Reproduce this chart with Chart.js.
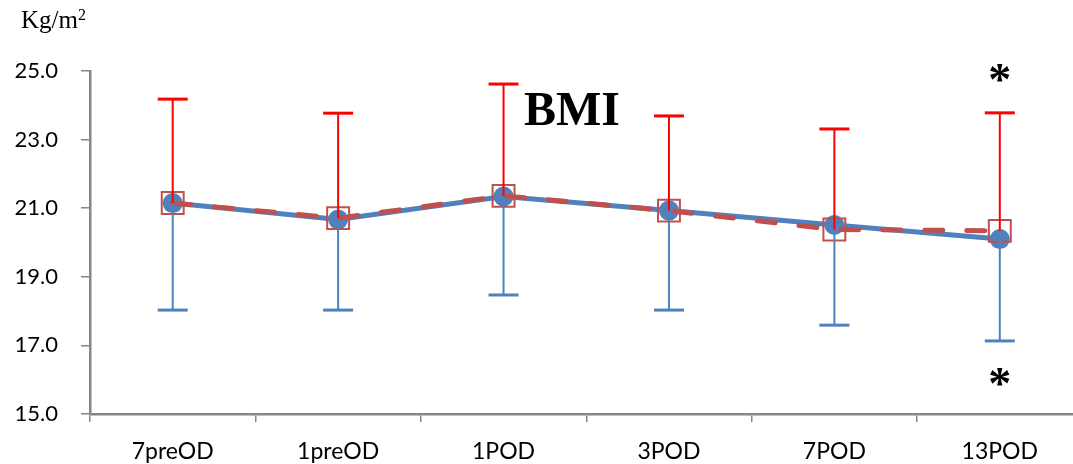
<!DOCTYPE html>
<html>
<head>
<meta charset="utf-8">
<script src="https://cdn.jsdelivr.net/npm/chart.js@4/dist/chart.umd.min.js"></script>
<style>
  body { margin: 0; background: #fff; overflow: hidden; }
  #wrap { width: 1073px; height: 464px; overflow: hidden; }
</style>
</head>
<body>
<div id="wrap"><canvas id="myChart" width="1100" height="464"></canvas></div>
<script>
'use strict';

// data
let days = ['7preOD', '1preOD', '1POD', '3POD', '7POD', '13POD'];
let blueBmi = [21.15, 20.67, 21.34, 20.93, 20.51, 20.10];
let redBmi = [21.15, 20.71, 21.36, 20.93, 20.38, 20.34];
let blueLow = [18.03, 18.03, 18.47, 18.03, 17.59, 17.13];
let redHigh = [24.18, 23.77, 24.62, 23.69, 23.31, 23.78];
let yTicks = [15, 17, 19, 21, 23, 25];
let starDay = '13POD';
let starValues = [24.94, 16.08];

const BLUE = '#4f81bd';
const RED = '#c0504d';
const AXIS = '#868686';

// error bars + texts drawn on top of the chart
const extras = {
  id: 'extras',
  afterDatasetsDraw(chart) {
    const ctx = chart.ctx;
    const x = chart.scales.x;
    const y = chart.scales.y;
    ctx.save();

    function bar(i, from, to, color) {
      let px = x.getPixelForValue(i);
      let y1 = y.getPixelForValue(from);
      let y2 = y.getPixelForValue(to);
      ctx.strokeStyle = color;
      ctx.lineWidth = 2;
      ctx.beginPath();
      ctx.moveTo(px, y1);
      ctx.lineTo(px, y2);
      ctx.stroke();
      ctx.lineWidth = 3;
      ctx.beginPath();
      ctx.moveTo(px - 15, y2);
      ctx.lineTo(px + 15, y2);
      ctx.stroke();
    }
    for (let i = 0; i < days.length; i++) {
      bar(i, blueBmi[i], blueLow[i], BLUE);
      bar(i, redBmi[i], redHigh[i], '#ff0000');
    }

    // title
    ctx.fillStyle = '#000';
    ctx.font = 'bold 48px "Liberation Serif", serif';
    ctx.textAlign = 'center';
    ctx.textBaseline = 'alphabetic';
    ctx.fillText('BMI', 572, 125);

    // asterisks
    ctx.font = 'bold 46px "Liberation Serif", serif';
    let sx = x.getPixelForValue(days.indexOf(starDay));
    let m = ctx.measureText('*');
    for (let v of starValues) {
      let cy = y.getPixelForValue(v);
      let base = cy + (m.actualBoundingBoxAscent - m.actualBoundingBoxDescent) / 2;
      ctx.fillText('*', sx, base);
    }
    ctx.restore();
  },
  afterDraw(chart) {
    const ctx = chart.ctx;
    ctx.save();
    ctx.fillStyle = '#000';
    ctx.textAlign = 'left';
    ctx.textBaseline = 'alphabetic';
    ctx.font = '25px "Liberation Serif", serif';
    ctx.fillText('Kg/m', 21, 28);
    let w = ctx.measureText('Kg/m').width;
    ctx.font = '16px "Liberation Serif", serif';
    ctx.fillText('2', 21 + w, 20);
    ctx.restore();
  }
};

const data = {
  labels: days,
  datasets: [{
    label: 'red',
    data: redBmi,
    order: 1,
    borderColor: RED,
    borderWidth: 5,
    borderDash: [18, 24],
    borderCapStyle: 'round',
    tension: 0,
    pointStyle: 'rect',
    pointRadius: 15.5,
    pointBackgroundColor: 'rgba(0,0,0,0)',
    pointBorderColor: RED,
    pointBorderWidth: 2
  }, {
    label: 'blue',
    data: blueBmi,
    order: 2,
    borderColor: BLUE,
    borderWidth: 5,
    tension: 0,
    pointStyle: 'circle',
    pointRadius: 10,
    pointBackgroundColor: BLUE,
    pointBorderWidth: 0
  }]
};

const config = {
  type: 'line',
  data: data,
  options: {
    responsive: false,
    animation: false,
    clip: false,
    layout: { padding: { top: 71, right: 0, left: 0, bottom: 0 } },
    plugins: {
      legend: { display: false },
      tooltip: { enabled: false }
    },
    scales: {
      x: {
        offset: true,
        afterFit(scale) { scale.height = 50; },
        grid: {
          offset: true,
          drawOnChartArea: false,
          tickLength: 8,
          color: AXIS,
          lineWidth: 1.5
        },
        border: { color: AXIS, width: 2.5 },
        ticks: {
          color: '#000',
          padding: 16,
          maxRotation: 0,
          font: { family: 'Lato', size: 23 }
        }
      },
      y: {
        min: 15,
        max: 25,
        afterFit(scale) { scale.width = 90; },
        afterBuildTicks(scale) {
          scale.ticks = yTicks.map(v => ({ value: v }));
        },
        grid: {
          drawOnChartArea: false,
          tickLength: 9,
          color: AXIS,
          lineWidth: 1.5
        },
        border: { color: AXIS, width: 2.5 },
        ticks: {
          color: '#000',
          padding: 23,
          font: { family: 'Lato', size: 22 },
          callback: v => Number(v).toFixed(1)
        }
      }
    }
  },
  plugins: [extras]
};

const myChart = new Chart(document.getElementById('myChart'), config);
</script>
</body>
</html>
